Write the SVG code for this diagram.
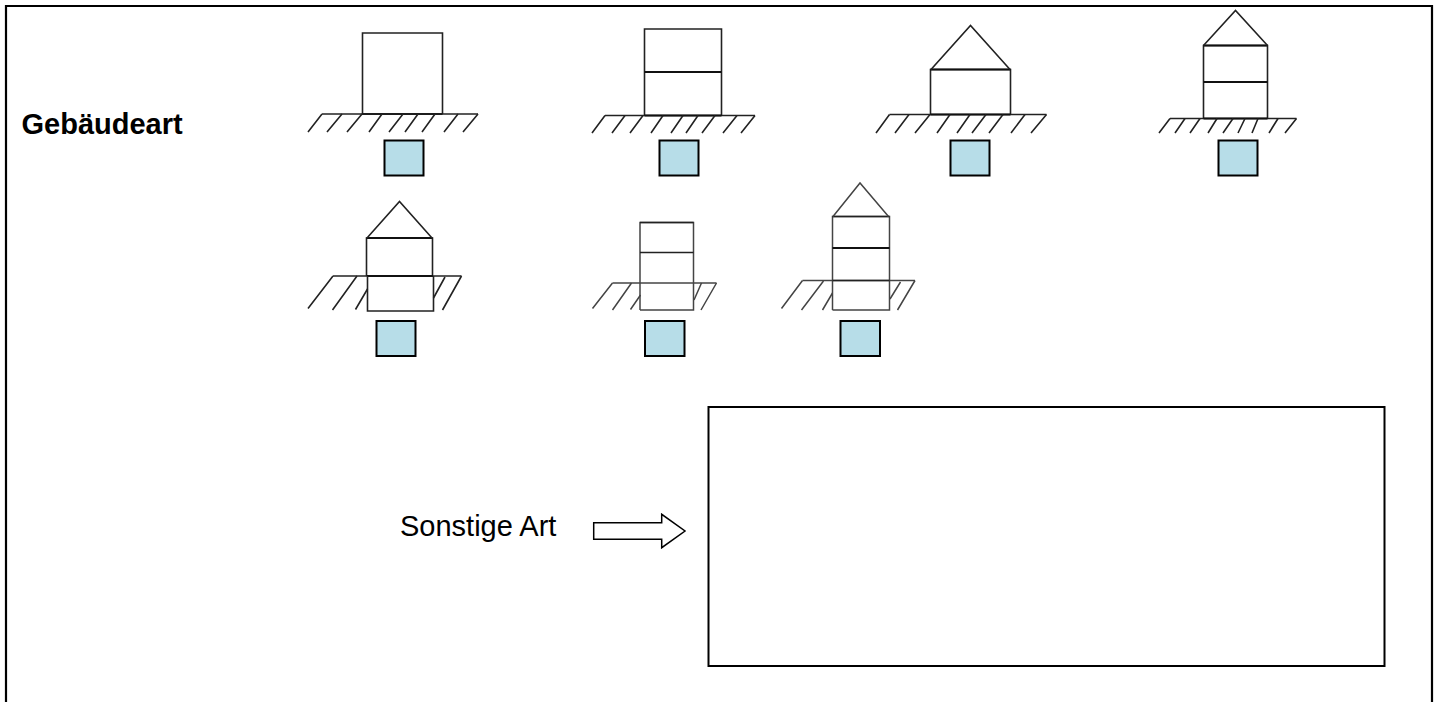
<svg xmlns="http://www.w3.org/2000/svg" width="1439" height="702" viewBox="0 0 1439 702">
<style>
.l{fill:none;stroke:#222;stroke-width:1.6}
.h{fill:none;stroke:#111;stroke-width:2}
.g{fill:none;stroke:#444;stroke-width:1.5}
.c{fill:#b7dde8;stroke:#000;stroke-width:2}
.t{font-family:"Liberation Sans",Arial,sans-serif;font-size:29px;fill:#000}
</style>
<rect width="1439" height="702" fill="#fff"/>
<path id="frame" d="M6 702V6H1432V702" fill="none" stroke="#000" stroke-width="2.200"/>
<g id="label-gebaeudeart"><text class="t" x="21.500" y="134" font-weight="bold">Gebäudeart</text></g>
<g id="house1">
<path class="l" d="M362.500 114V33H442.500V114"/>
<path class="h" d="M362 114H442.500"/>
<path class="l" d="M322 114H478"/>
<path class="l" d="M322 114L308 132M342 114L327 132M362 114L347 132M382 114L369 132M403 114L389 132M418 114L405 132M435 114L422 132M458 114L444 132M478 114L463 132"/>
<rect class="c" x="384.500" y="140.500" width="39" height="35"/>
</g>
<g id="house2">
<path class="l" d="M644.500 115.500V29H721.500V115.500"/>
<path class="h" d="M644.500 72H721.500"/>
<path class="l" d="M605 115.500H755"/>
<path class="h" d="M644.500 115.500H721.500"/>
<path class="l" d="M605 115.500L592 133M625 115.500L612 133M643 115.500L630 133M663 115.500L651 133M683 115.500L671 133M698 115.500L686 133M715 115.500L702 133M737 115.500L723 133M755 115.500L741 133"/>
<rect class="c" x="659.500" y="140.500" width="39" height="35"/>
</g>
<g id="house3">
<path class="l" d="M930.500 114.500V69.500H1010.500V114.500"/>
<path class="h" d="M930.500 69.500H1010.500"/>
<path class="l" d="M931 69.500L970.500 25.500L1010 69.500"/>
<path class="l" d="M889.500 114.500H1046.500"/>
<path class="h" d="M930.500 114.500H1010.500"/>
<path class="l" d="M889.500 114.500L876 133M909 114.500L895 133M930 114.500L915 133M950 114.500L937 133M970 114.500L957 133M986 114.500L972 133M1003 114.500L989 133M1025 114.500L1011 133M1046.500 114.500L1031 133"/>
<rect class="c" x="950.500" y="140.500" width="39" height="35"/>
</g>
<g id="house4">
<path class="l" d="M1203.500 118.500V45.500H1267.500V118.500"/>
<path class="h" d="M1203.500 45.500H1267.500M1203.500 82H1267.500"/>
<path class="l" d="M1203.500 45.500L1235.500 10.500L1267.500 45.500"/>
<path class="l" d="M1170 118.500H1296.500"/>
<path class="h" d="M1203.500 118.500H1267.500"/>
<path class="l" d="M1170 118.500L1159 133M1185 118.500L1175 133M1200 118.500L1190 133M1217 118.500L1208 133M1233 118.500L1223 133M1245 118.500L1238 133M1258 118.500L1252 133M1278 118.500L1269 133M1296.500 118.500L1285 133"/>
<rect class="c" x="1218.500" y="140.500" width="39" height="35"/>
</g>
<g id="house5">
<path class="l" d="M366.500 276V238H432.500V276"/>
<path class="h" d="M366.500 238H432.500"/>
<path class="l" d="M367 238L399.500 201.500L432 238"/>
<path class="l" d="M333 276H461.500"/>
<path class="h" d="M367 276H433"/>
<path class="l" d="M367.500 276V311H433.500V276"/>
<path class="l" d="M333 276L308 308.500M357 276L332.500 310M367.500 289L355.500 309.500M445 277L433.500 298M461.500 276L442.500 310"/>
<rect class="c" x="376.500" y="321" width="39" height="35"/>
</g>
<g id="house6">
<path class="g" d="M640 310V222.500H693.500V310H640"/>
<path class="l" d="M640 222.500H693.500"/>
<path class="l" d="M640 252.500H693.500"/>
<path class="g" d="M612.500 283H716.500"/>
<path class="g" d="M612.500 283L592.500 308.500M631.500 283L612.500 310M640.500 295L630.500 309.500M701.500 283L694 300M716.500 283L701 310"/>
<rect class="c" x="645" y="321" width="39.500" height="35"/>
</g>
<g id="house7">
<path class="g" d="M832.500 310V216.500H889.500V310H832.500"/>
<path class="l" d="M832.500 216.500H889.500"/>
<path class="h" d="M832.500 248H889.500"/>
<path class="g" d="M833 216.500L860 183L888.500 216.500"/>
<path class="g" d="M802.500 280.500H915"/>
<path class="l" d="M832.500 280.500H889.500"/>
<path class="g" d="M802.500 280.500L781.500 308.500M823.500 281L801.500 310M832.500 293L822.500 310M900.500 282L890 299M915 280.500L897.500 310"/>
<rect class="c" x="840.500" y="321" width="39.500" height="35"/>
</g>
<g id="label-sonstige"><text class="t" x="400" y="536">Sonstige Art</text></g>
<g id="connectors">
<path id="arrow" d="M593.700 522.700H661.700V514.300L685 531L661.700 547.700V539.300H593.700Z" fill="#fff" stroke="#000" stroke-width="1.500"/>
</g>
<g id="input-box"><rect x="708.500" y="407" width="676" height="259" fill="#fff" stroke="#000" stroke-width="2"/></g>
</svg>
